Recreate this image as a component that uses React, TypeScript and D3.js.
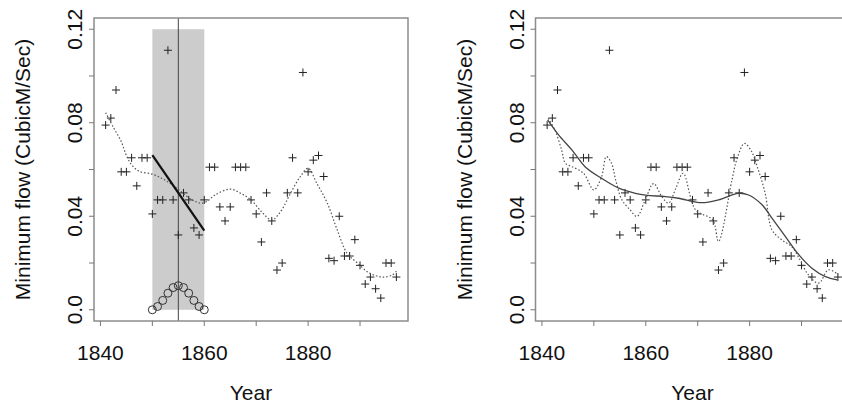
import React from "react";
import * as d3 from "d3";

// Annual minimum flow series (CubicM/Sec)
const years = d3.range(1841, 1898);
const minFlow = [
  0.079, 0.082, 0.094, 0.059, 0.059, 0.065, 0.053, 0.065, 0.065, 0.041,
  0.047, 0.047, 0.111, 0.047, 0.032, 0.05, 0.047, 0.035, 0.032, 0.047,
  0.061, 0.061, 0.044, 0.038, 0.044, 0.061, 0.061, 0.061, 0.047, 0.041,
  0.029, 0.05, 0.038, 0.017, 0.02, 0.05, 0.065, 0.05, 0.1015, 0.059,
  0.064, 0.066, 0.057, 0.022, 0.021, 0.04, 0.023, 0.023, 0.03, 0.019,
  0.011, 0.014, 0.009, 0.005, 0.02, 0.02, 0.014,
];

// Left panel: kernel smoother
const kernelYears = [1841, 1842.5, 1844, 1845, 1846, 1847.5, 1850, 1852, 1853.5, 1855, 1856.7, 1858.3, 1859.4, 1860.5, 1862, 1865, 1867, 1869, 1871, 1873, 1874.7, 1876.6, 1878.5, 1880, 1881.7, 1883.7, 1885.6, 1887.5, 1889.5, 1891.8, 1894.4, 1896.3, 1897];
const kernelFit = [0.0843, 0.078, 0.072, 0.066, 0.062, 0.0592, 0.058, 0.056, 0.054, 0.0515, 0.0484, 0.0463, 0.0456, 0.0463, 0.049, 0.0516, 0.0498, 0.047, 0.042, 0.0384, 0.042, 0.0498, 0.057, 0.0605, 0.054, 0.0456, 0.0342, 0.0242, 0.02, 0.0157, 0.014, 0.015, 0.0165];

// Local window around the focal year
const windowYears = [1850, 1860];
const windowTop = 0.12;
const focalYear = 1855;
const localLineYears = [1850, 1860];
const localLineFit = [0.0662, 0.0339];
const weightYears = [1850, 1851, 1852, 1853, 1854, 1855, 1856, 1857, 1858, 1859, 1860];
const weights = [0, 0.0014, 0.004, 0.0071, 0.0095, 0.0103, 0.0095, 0.0071, 0.004, 0.0014, 0];

// Right panel: wiggly smoother and smooth fit
const wigglyYears = [1841.2, 1842.5, 1843.8, 1844.5, 1845.8, 1848, 1850, 1851.5, 1852.4, 1853.4, 1854.2, 1855.4, 1857, 1858.3, 1859.9, 1861.5, 1863.1, 1864.4, 1865.8, 1867.2, 1869.6, 1872.9, 1874, 1876.6, 1877.5, 1879, 1880.3, 1881.5, 1883, 1884.3, 1886.2, 1888.1, 1889.7, 1891.3, 1893.3, 1895.2, 1897.1];
const wigglyFit = [0.0819, 0.0769, 0.0683, 0.0627, 0.0612, 0.0584, 0.0513, 0.057, 0.0655, 0.0627, 0.0555, 0.047, 0.0427, 0.0399, 0.047, 0.054, 0.0484, 0.0456, 0.052, 0.0584, 0.0427, 0.0384, 0.0292, 0.0555, 0.064, 0.0712, 0.068, 0.061, 0.0498, 0.0342, 0.0299, 0.027, 0.0214, 0.015, 0.0114, 0.0171, 0.015];
const smoothYears = [1841.1, 1843.2, 1845.8, 1848.3, 1851.5, 1854.8, 1858, 1860, 1863.8, 1866.3, 1870.8, 1874, 1877.8, 1879.8, 1882.4, 1884.3, 1886.9, 1889.5, 1892, 1894.6, 1896.9];
const smoothFit = [0.0812, 0.0748, 0.0683, 0.0612, 0.0562, 0.052, 0.0498, 0.049, 0.0484, 0.0477, 0.0458, 0.047, 0.0498, 0.0491, 0.0449, 0.0392, 0.0313, 0.0235, 0.0178, 0.0142, 0.0128];

const xTicks = [1840, 1850, 1860, 1870, 1880, 1890];
const xLabels = [1840, 1860, 1880];
const yTicks = [0, 0.02, 0.04, 0.06, 0.08, 0.1, 0.12];
const yLabels = [0, 0.04, 0.08, 0.12];
const yLabelText = ["0.0", "0.04", "0.08", "0.12"];

const W = 842;
const H = 406;
const FONT = "'Liberation Sans', Arial, Helvetica, sans-serif";
const FS = 21;

const xDomain: [number, number] = [1838.76, 1899.24];
const yDomain: [number, number] = [-0.0048, 0.1248];

function pts(xs: number[], ys: number[]): [number, number][] {
  return xs.map((x, i) => [x, ys[i]]);
}

function Panel({ left, variant }: { left: number; variant: "local" | "compare" }) {
  const x = d3.scaleLinear().domain(xDomain).range([left, left + 314]);
  const y = d3.scaleLinear().domain(yDomain).range([321, 18]);
  const line = d3
    .line<[number, number]>()
    .x((d) => x(d[0]))
    .y((d) => y(d[1]))
    .curve(d3.curveCatmullRom.alpha(0.5));
  const straight = d3
    .line<[number, number]>()
    .x((d) => x(d[0]))
    .y((d) => y(d[1]));
  const [x0, x1] = x.range();
  const [yb, yt] = y.range();
  const cs = 4;

  return (
    <g>
      {variant === "local" && (
        <g>
          <rect
            x={x(windowYears[0])}
            y={y(windowTop)}
            width={x(windowYears[1]) - x(windowYears[0])}
            height={y(0) - y(windowTop)}
            fill="#cccccc"
          />
          <line x1={x(focalYear)} x2={x(focalYear)} y1={yt} y2={yb} stroke="#444" strokeWidth={1} />
        </g>
      )}

      {/* observations */}
      <g stroke="#222" strokeWidth={1} fill="none">
        {years.map((yr, i) => (
          <path
            key={yr}
            d={`M${x(yr) - cs},${y(minFlow[i])}H${x(yr) + cs}M${x(yr)},${y(minFlow[i]) - cs}V${y(minFlow[i]) + cs}`}
          />
        ))}
      </g>

      {variant === "local" ? (
        <g>
          <path d={line(pts(kernelYears, kernelFit)) || ""} fill="none" stroke="#555" strokeWidth={1.2} strokeDasharray="1.5,2" />
          <path d={straight(pts(localLineYears, localLineFit)) || ""} fill="none" stroke="#111" strokeWidth={2.2} />
          <g fill="none" stroke="#333" strokeWidth={1}>
            {weightYears.map((yr, i) => (
              <circle key={yr} cx={x(yr)} cy={y(weights[i])} r={4} />
            ))}
          </g>
        </g>
      ) : (
        <g>
          <path d={line(pts(wigglyYears, wigglyFit)) || ""} fill="none" stroke="#555" strokeWidth={1.2} strokeDasharray="1.5,2" />
          <path d={line(pts(smoothYears, smoothFit)) || ""} fill="none" stroke="#444" strokeWidth={1.3} />
        </g>
      )}

      {/* frame */}
      <rect x={x0} y={yt} width={x1 - x0} height={yb - yt} fill="none" stroke="#8c8c8c" strokeWidth={1.5} />

      {/* x axis */}
      <g stroke="#777" strokeWidth={1}>
        {xTicks.map((t) => (
          <line key={t} x1={x(t)} x2={x(t)} y1={yb} y2={yb + 5} />
        ))}
      </g>
      {xLabels.map((t) => (
        <text key={t} x={x(t)} y={360} textAnchor="middle" fontSize={FS} fontFamily={FONT} fill="#111">
          {t}
        </text>
      ))}
      <text x={(x0 + x1) / 2} y={400} textAnchor="middle" fontSize={FS} fontFamily={FONT} fill="#111">
        Year
      </text>

      {/* y axis */}
      <g stroke="#777" strokeWidth={1}>
        {yTicks.map((t) => (
          <line key={t} x1={x0} x2={x0 - 5} y1={y(t)} y2={y(t)} />
        ))}
      </g>
      {yLabels.map((t, i) => (
        <text
          key={t}
          transform={`translate(${x0 - 12},${y(t)}) rotate(-90)`}
          textAnchor="middle"
          fontSize={FS}
          fontFamily={FONT}
          fill="#111"
        >
          {yLabelText[i]}
        </text>
      ))}
      <text
        transform={`translate(${x0 - 64},${(yt + yb) / 2}) rotate(-90)`}
        textAnchor="middle"
        fontSize={FS}
        fontFamily={FONT}
        fill="#111"
      >
        Minimum flow (CubicM/Sec)
      </text>
    </g>
  );
}

export default function App() {
  return (
    <div style={{ position: "fixed", left: 0, top: 0, width: W, height: H, background: "#fff" }}>
      <svg width={W} height={H} viewBox={`0 0 ${W} ${H}`} style={{ display: "block" }}>
        <rect width={W} height={H} fill="#fff" />
        <Panel left={94} variant="local" />
        <Panel left={535.5} variant="compare" />
      </svg>
    </div>
  );
}
